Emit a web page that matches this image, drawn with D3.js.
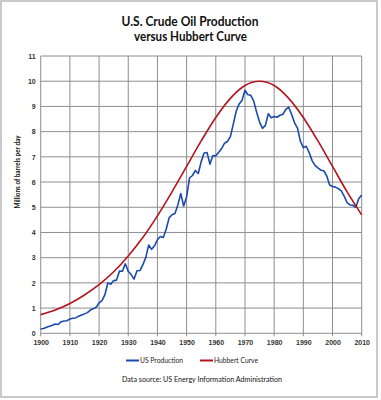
<!DOCTYPE html>
<html><head><meta charset="utf-8">
<script src="https://cdn.jsdelivr.net/npm/d3@7"></script>
<style>
body{margin:0;background:#fff;}
svg{display:block;font-family:"Lato","Open Sans",sans-serif;}
</style></head>
<body><svg id="c" width="381" height="400"></svg>
<script>
const titleLines = ["U.S. Crude Oil Production", "versus Hubbert Curve"];
const yLabel = "Millions of barrels per day";
const sourceText = "Data source: US Energy Information Administration";
const seriesNames = ["US Production", "Hubbert Curve"];
const xTicks = [1900,1910,1920,1930,1940,1950,1960,1970,1980,1990,2000,2010];
const yTicks = [0,1,2,3,4,5,6,7,8,9,10,11];

const prodYears = d3.range(1900, 2011);
const prodValues = [
0.17,0.19,0.24,0.28,0.32,0.37,0.35,0.46,0.49,0.50,
0.57,0.60,0.61,0.68,0.73,0.77,0.82,0.92,0.97,1.03,
1.21,1.30,1.53,2.00,1.95,2.09,2.11,2.47,2.46,2.76,
2.46,2.33,2.15,2.48,2.49,2.72,3.00,3.50,3.33,3.47,
3.71,3.84,3.80,4.13,4.58,4.70,4.75,5.09,5.54,5.05,
5.41,6.16,6.26,6.46,6.34,6.81,7.15,7.17,6.71,7.05,
7.04,7.18,7.33,7.54,7.61,7.80,8.30,8.81,9.10,9.24,
9.64,9.46,9.44,9.21,8.77,8.38,8.13,8.25,8.71,8.55,
8.60,8.57,8.65,8.69,8.88,8.97,8.68,8.35,8.14,7.61,
7.36,7.42,7.17,6.85,6.66,6.56,6.47,6.45,6.25,5.88,
5.82,5.80,5.74,5.65,5.44,5.18,5.09,5.08,5.00,5.35,
5.48];

const hubYears = [1900,1905,1910,1915,1920,1925,1930,1935,1940,1945,1950,1955,1960,1965,1970,1975,1980,1985,1990,1995,2000,2005,2010];
const hubValues = [0.74,0.92,1.18,1.52,1.93,2.44,3.07,3.80,4.66,5.61,6.62,7.63,8.56,9.32,9.83,10.0,9.83,9.32,8.56,7.63,6.62,5.61,4.70];

const colors = ["#1a4aab", "#b3141c"];

const svg = d3.select("#c");
svg.append("rect").attr("x",1).attr("y",1).attr("width",376).attr("height",396)
  .attr("fill","#fff").attr("stroke","#b8b8b8").attr("stroke-width",1.5);

const L=40.7, R=361.7, T=56, B=333.3;
const x = d3.scaleLinear().domain([1900,2010]).range([L,R]);
const y = d3.scaleLinear().domain([0,11]).range([B,T]);

// gridlines
const g = svg.append("g");
g.selectAll("line.h").data(yTicks).join("line")
  .attr("x1",L).attr("x2",R).attr("y1",d=>y(d)).attr("y2",d=>y(d))
  .attr("stroke","#8e8e8e").attr("stroke-width",1);
g.selectAll("line.v").data(xTicks).join("line")
  .attr("x1",d=>x(d)).attr("x2",d=>x(d)).attr("y1",T).attr("y2",B+3)
  .attr("stroke","#8e8e8e").attr("stroke-width",1);

// axes labels
const yAxis = d3.axisLeft(y).tickValues(yTicks).tickSize(0).tickPadding(5);
const ya = svg.append("g").attr("transform",`translate(${L},0)`).call(yAxis);
ya.select(".domain").remove();
ya.selectAll("text").attr("font-size",7).attr("font-weight","bold").attr("fill","#333");

const xAxis = d3.axisBottom(x).tickValues(xTicks).tickFormat(d3.format("d")).tickSize(0).tickPadding(7);
const xa = svg.append("g").attr("transform",`translate(0,${B})`).call(xAxis);
xa.select(".domain").remove();
xa.selectAll("text").attr("font-size",7).attr("font-weight","bold").attr("fill","#333");

// lines
const line = d3.line().x(d=>x(d[0])).y(d=>y(d[1]));
svg.append("path").datum(prodYears.map((yr,i)=>[yr,prodValues[i]]))
  .attr("d", line.curve(d3.curveLinear)).attr("fill","none")
  .attr("stroke",colors[0]).attr("stroke-width",1.6).attr("stroke-linejoin","round");
svg.append("path").datum(hubYears.map((yr,i)=>[yr,hubValues[i]]))
  .attr("d", d3.line().x(d=>x(d[0])).y(d=>y(d[1])).curve(d3.curveMonotoneX)).attr("fill","none")
  .attr("stroke",colors[1]).attr("stroke-width",1.6);

// titles
svg.append("text").attr("x",190).attr("y",26).attr("text-anchor","middle")
  .attr("font-size",13).attr("font-weight","bold").attr("fill","#111")
  .attr("textLength",137).attr("lengthAdjust","spacingAndGlyphs").text(titleLines[0]);
svg.append("text").attr("x",190.5).attr("y",40.5).attr("text-anchor","middle")
  .attr("font-size",13).attr("font-weight","bold").attr("fill","#111")
  .attr("textLength",113).attr("lengthAdjust","spacingAndGlyphs").text(titleLines[1]);

svg.append("text").attr("transform","translate(19.5,172) rotate(-90)").attr("text-anchor","middle")
  .attr("font-size",7).attr("font-weight","bold").attr("fill","#111")
  .attr("textLength",73).attr("lengthAdjust","spacingAndGlyphs").text(yLabel);

// legend
const leg = [{x:126,tx:140,w:43},{x:200,tx:214,w:44}];
leg.forEach((l,i)=>{
  svg.append("line").attr("x1",l.x).attr("x2",l.x+13).attr("y1",360.5).attr("y2",360.5)
    .attr("stroke",colors[i]).attr("stroke-width",2);
  svg.append("text").attr("x",l.tx).attr("y",363).attr("font-size",7.5).attr("fill","#222")
    .attr("textLength",l.w).attr("lengthAdjust","spacingAndGlyphs").text(seriesNames[i]);
});

svg.append("text").attr("x",202).attr("y",381.5).attr("text-anchor","middle")
  .attr("font-size",8).attr("fill","#111")
  .attr("textLength",160).attr("lengthAdjust","spacingAndGlyphs").text(sourceText);
</script></body></html>
